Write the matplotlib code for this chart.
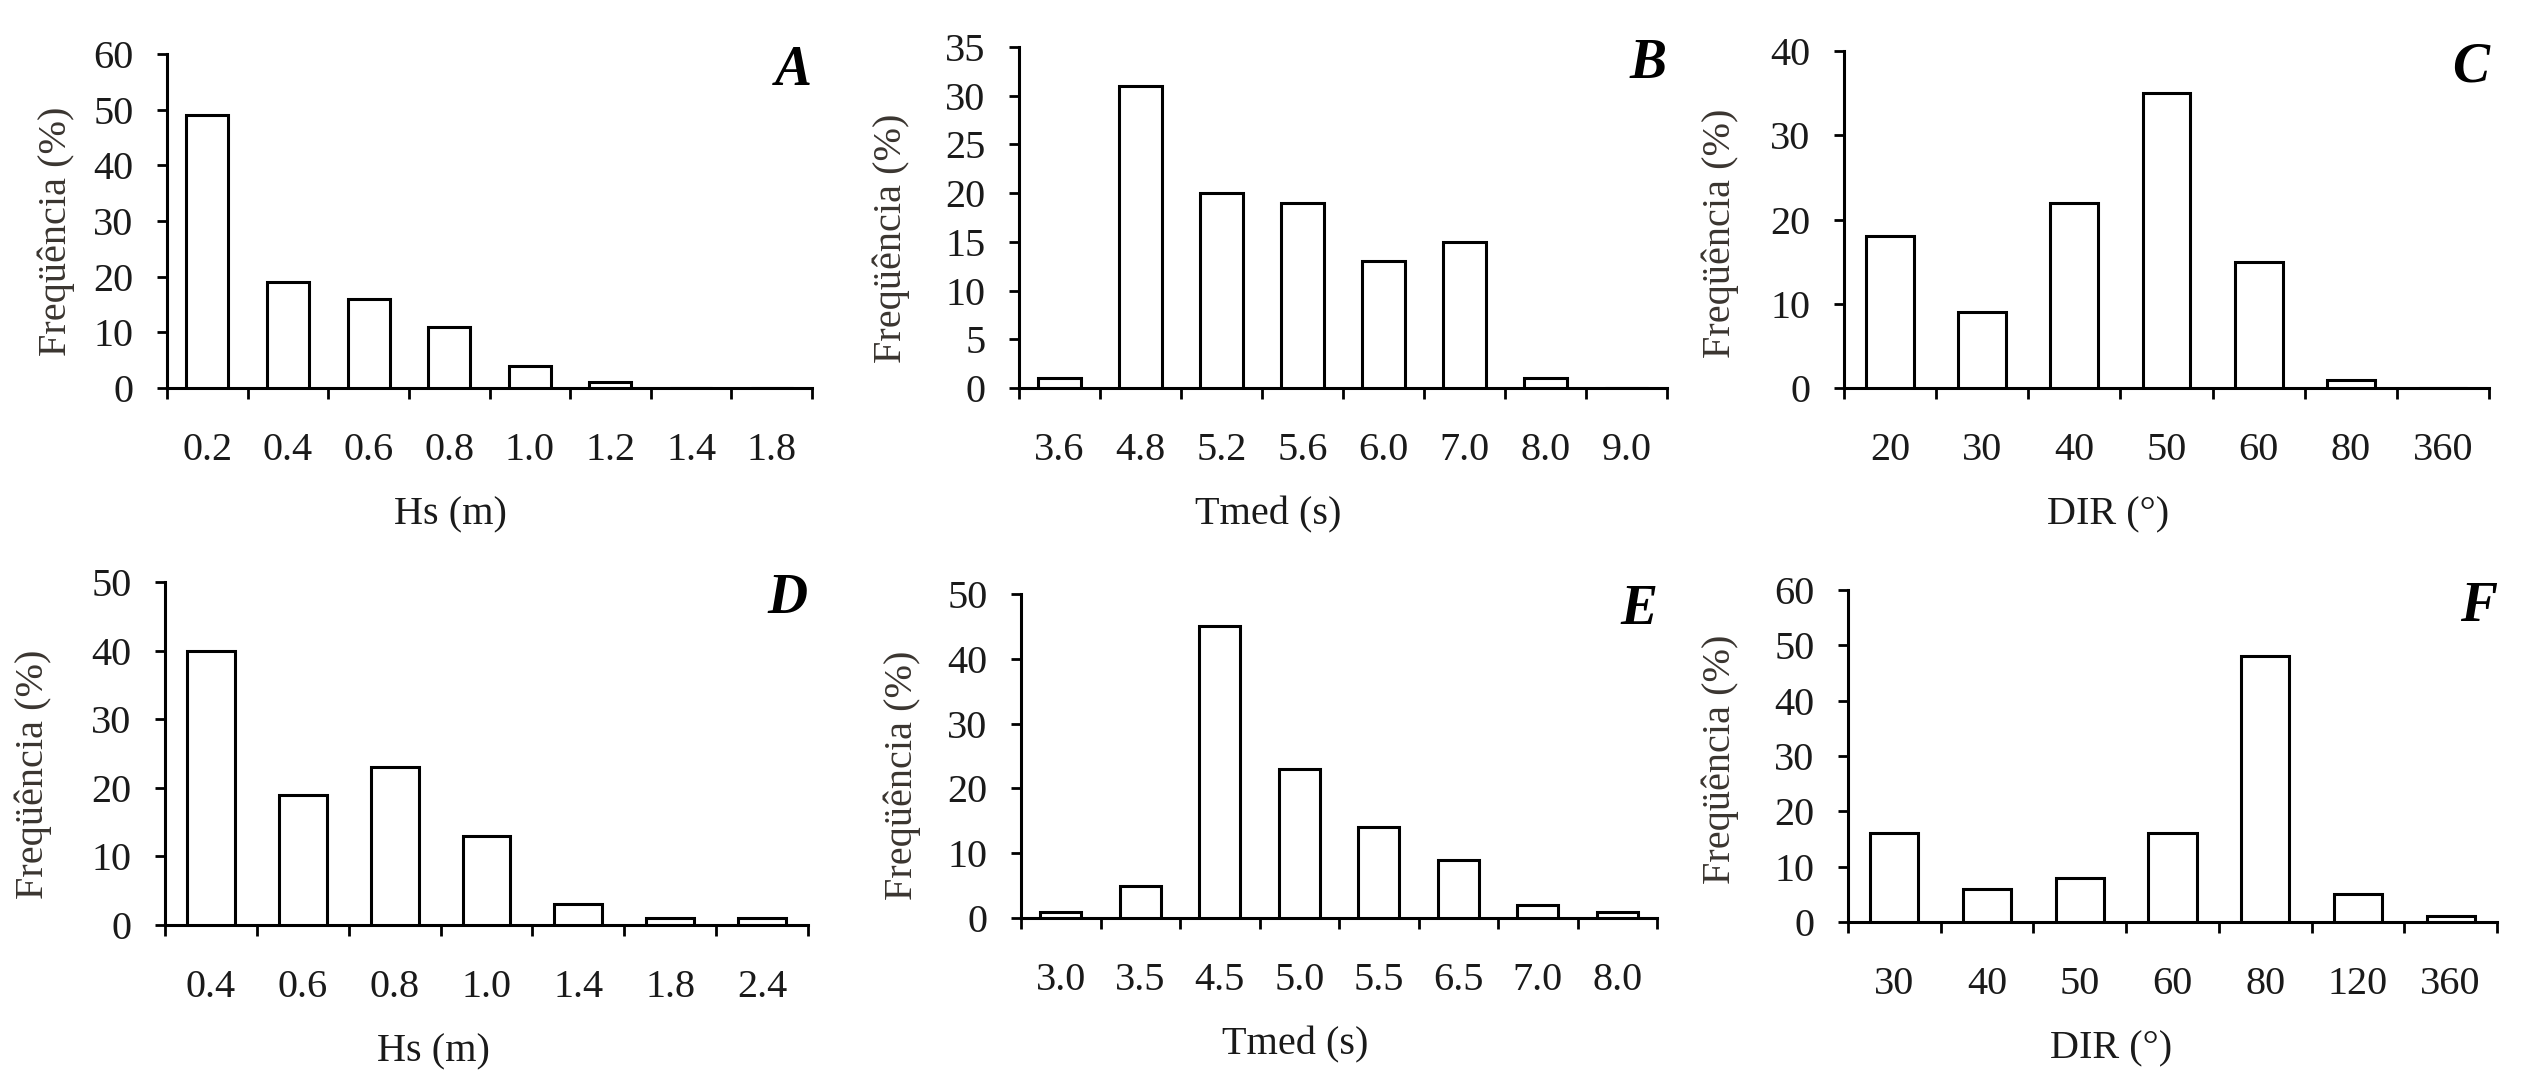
import numpy as np
import matplotlib
matplotlib.use("Agg")
import matplotlib.pyplot as plt

plt.rcParams["font.family"] = ["Liberation Serif", "DejaVu Serif"]

# Painel A - Hs (m)
hs_a_labels = ["0.2", "0.4", "0.6", "0.8", "1.0", "1.2", "1.4", "1.8"]
hs_a_freq = [49, 19, 16, 11, 4, 1, 0, 0]
# Painel B - Tmed (s)
tm_b_labels = ["3.6", "4.8", "5.2", "5.6", "6.0", "7.0", "8.0", "9.0"]
tm_b_freq = [1, 31, 20, 19, 13, 15, 1, 0]
# Painel C - DIR
dir_c_labels = ["20", "30", "40", "50", "60", "80", "360"]
dir_c_freq = [18, 9, 22, 35, 15, 1, 0]
# Painel D - Hs (m)
hs_d_labels = ["0.4", "0.6", "0.8", "1.0", "1.4", "1.8", "2.4"]
hs_d_freq = [40, 19, 23, 13, 3, 1, 1]
# Painel E - Tmed (s)
tm_e_labels = ["3.0", "3.5", "4.5", "5.0", "5.5", "6.5", "7.0", "8.0"]
tm_e_freq = [1, 5, 45, 23, 14, 9, 2, 1]
# Painel F - DIR
dir_f_labels = ["30", "40", "50", "60", "80", "120", "360"]
dir_f_freq = [16, 6, 8, 16, 48, 5, 1]

W, H = 2537, 1092
fig = plt.figure(figsize=(W / 100, H / 100), dpi=100)

# (letra, labels, valores, xlabel, ymax, ystep, [left, bottom, w, h] em px, xlabel x frac, ylabel dx px, ylabel y frac)
paineis = [
    ("A", hs_a_labels, hs_a_freq, "Hs (m)", 60, 10, [167, 388, 645, 334], 0.439, 111, 0.47),
    ("B", tm_b_labels, tm_b_freq, "Tmed (s)", 35, 5, [1019, 388, 648, 341], 0.384, 128, 0.44),
    ("C", dir_c_labels, dir_c_freq, "DIR (°)", 40, 10, [1844, 388, 645, 337], 0.409, 124, 0.46),
    ("D", hs_d_labels, hs_d_freq, "Hs (m)", 50, 10, [165, 925, 643, 343], 0.418, 132, 0.44),
    ("E", tm_e_labels, tm_e_freq, "Tmed (s)", 50, 10, [1021, 918, 636, 324], 0.431, 119, 0.44),
    ("F", dir_f_labels, dir_f_freq, "DIR (°)", 60, 10, [1848, 922, 649, 332], 0.405, 128, 0.49),
]

fs = 29
txt = "#1a1a1a"
for letra, labels, vals, xlab, ymax, ystep, box, xl_x, yl_dx, yl_y in paineis:
    left, zero, w, h = box
    ax = fig.add_axes([left / W, 1 - zero / H, w / W, h / H])
    n = len(labels)
    centros = np.arange(n) + 0.5
    ax.bar(centros, vals, width=0.52, color="white", edgecolor="black", linewidth=2.2, zorder=3)
    ax.set_xlim(0, n)
    ax.set_ylim(0, ymax)
    ax.set_yticks(np.arange(0, ymax + 1, ystep))
    ax.set_xticks(np.arange(n + 1))
    ax.set_xticklabels([])
    ax.set_xticks(centros, minor=True)
    ax.set_xticklabels(labels, minor=True)
    ax.tick_params(axis="x", which="major", length=8, width=2, direction="out")
    ax.tick_params(axis="x", which="minor", length=0, pad=32, labelsize=fs, labelcolor=txt)
    ax.tick_params(axis="y", length=7, width=2, direction="out", pad=17, labelsize=fs, labelcolor=txt)
    for s in ["top", "right"]:
        ax.spines[s].set_visible(False)
    for s in ["left", "bottom"]:
        ax.spines[s].set_linewidth(2.2)
    ax.set_xlabel(xlab, fontsize=fs, color=txt)
    ax.xaxis.label.set_va("center")
    ax.xaxis.set_label_coords(xl_x, -127 / h)
    ax.set_ylabel("Freqüência (%)", fontsize=fs, color="#3a3530")
    ax.yaxis.label.set_va("center")
    ax.yaxis.label.set_ha("center")
    ax.yaxis.set_label_coords(-yl_dx / w, yl_y)
    ax.text(1.0, 0.95, letra, transform=ax.transAxes, ha="right", va="center",
            fontsize=40, fontweight="bold", fontstyle="italic", color="black")

fig.savefig("out.png", dpi=100, facecolor="white")
